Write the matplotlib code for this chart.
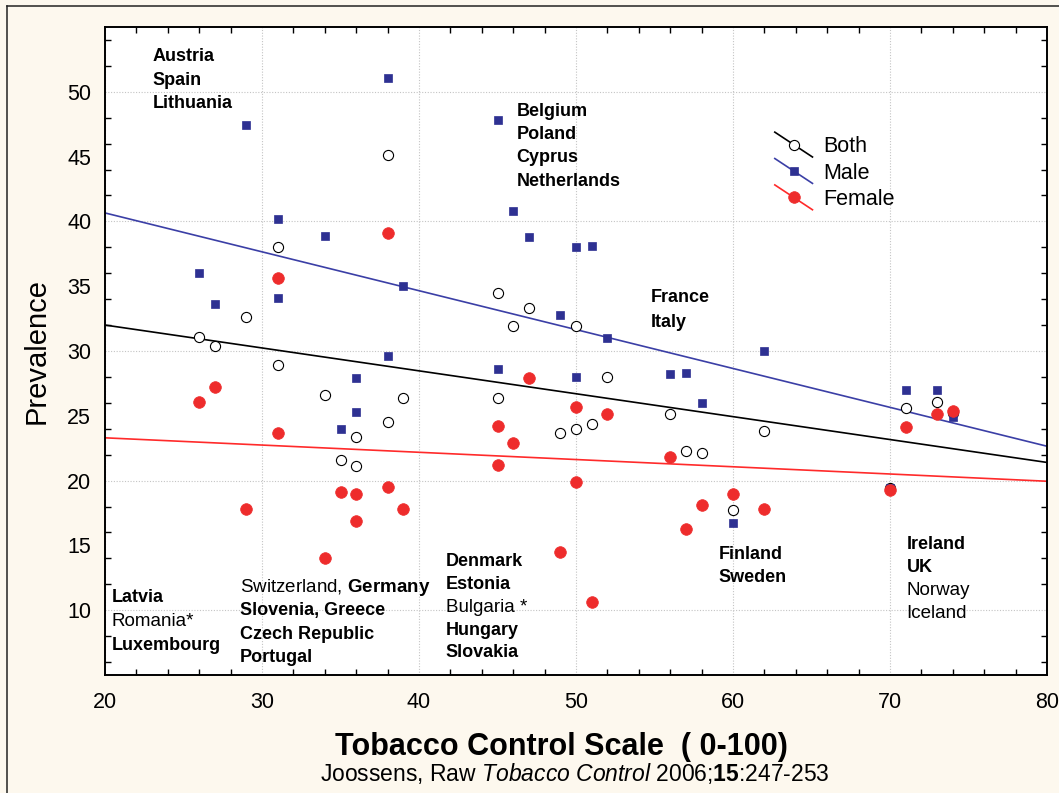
import matplotlib
matplotlib.use("Agg")
import matplotlib.pyplot as plt
from matplotlib.lines import Line2D
from matplotlib.legend_handler import HandlerLine2D

plt.rcParams['font.family'] = ['Liberation Sans', 'DejaVu Sans']
plt.rcParams['mathtext.fontset'] = 'custom'
plt.rcParams['mathtext.rm'] = 'Liberation Sans'
plt.rcParams['mathtext.it'] = 'Liberation Sans:italic'
plt.rcParams['mathtext.bf'] = 'Liberation Sans:bold'

# tobacco control scale score per country
tcs = [26, 27, 29, 31, 31, 34, 35, 36, 36, 38, 38, 39, 45, 45, 46,
       47, 49, 50, 50, 51, 52, 56, 57, 58, 60, 62, 70, 71, 73, 74]

prev_both = [31.1, 30.4, 32.6, 38.0, 28.9, 26.6, 21.6, 23.4, 21.1, 45.1,
             24.5, 26.4, 34.5, 26.4, 31.9, 33.3, 23.7, 31.9, 24.0, 24.4,
             28.0, 25.1, 22.3, 22.1, 17.7, 23.8, 19.4, 25.6, 26.1, 25.2]
prev_male = [36.0, 33.6, 47.4, 40.2, 34.1, 38.9, 24.0, 27.9, 25.3, 51.1,
             29.6, 35.0, 47.8, 28.6, 40.8, 38.8, 32.8, 38.0, 28.0, 38.1,
             31.0, 28.2, 28.3, 26.0, 16.7, 30.0, 19.4, 27.0, 27.0, 24.9]
prev_female = [26.1, 27.2, 17.8, 35.6, 23.7, 14.0, 19.1, 19.0, 16.9, 39.1,
               19.5, 17.8, 24.2, 21.2, 22.9, 27.9, 14.5, 25.7, 19.9, 10.6,
               25.1, 21.8, 16.3, 18.1, 19.0, 17.8, 19.3, 24.1, 25.1, 25.4]

# fitted lines, end values
fit_x = [20, 80]
fit_both = [32.0, 21.4]
fit_male = [40.65, 22.65]
fit_female = [23.3, 19.95]

# country groups written on the chart: (x, y of first line, step, lines)
groups = [
    (23.05, 52.7, 1.8, [("Austria", "bold"), ("Spain", "bold"), ("Lithuania", "bold")]),
    (46.2, 48.5, 1.8, [("Belgium", "bold"), ("Poland", "bold"), ("Cyprus", "bold"),
                       ("Netherlands", "bold")]),
    (54.75, 34.15, 1.93, [("France", "bold"), ("Italy", "bold")]),
    (20.4, 10.95, 1.82, [("Latvia", "bold"), ("Romania*", "normal"), ("Luxembourg", "bold")]),
    (28.6, 11.75, 1.8, [(r"Switzerland, $\mathbf{Germany}$", "normal"),
                        ("Slovenia, Greece", "bold"), ("Czech Republic", "bold"),
                        ("Portugal", "bold")]),
    (41.7, 13.75, 1.76, [("Denmark", "bold"), ("Estonia", "bold"), ("Bulgaria *", "normal"),
                         ("Hungary", "bold"), ("Slovakia", "bold")]),
    (59.1, 14.3, 1.78, [("Finland", "bold"), ("Sweden", "bold")]),
    (71.05, 15.1, 1.78, [("Ireland", "bold"), ("UK", "bold"), ("Norway", "normal"),
                         ("Iceland", "normal")]),
]

blue = '#2E3192'
red = '#EE2C2C'
cream = '#FDF8EE'


class DiagonalHandler(HandlerLine2D):
    # legend sample drawn as a slanted line with the marker in the middle
    def create_artists(self, legend, orig_handle, xdescent, ydescent,
                       width, height, fontsize, trans):
        x0 = -xdescent
        x1 = x0 + width
        y0 = -ydescent + height * 1.35
        y1 = -ydescent - height * 0.3
        ln = Line2D([x0, x1], [y0, y1], color=orig_handle.get_color(),
                    lw=orig_handle.get_linewidth())
        mk = Line2D([(x0 + x1) / 2], [(y0 + y1) / 2], linestyle='none',
                    marker=orig_handle.get_marker(),
                    markersize=orig_handle.get_markersize(),
                    markerfacecolor=orig_handle.get_markerfacecolor(),
                    markeredgecolor=orig_handle.get_markeredgecolor(),
                    markeredgewidth=orig_handle.get_markeredgewidth())
        ln.set_transform(trans)
        mk.set_transform(trans)
        return [ln, mk]


fig = plt.figure(figsize=(10.59, 7.93), dpi=100, facecolor=cream)
ax = fig.add_axes([0.0992, 0.1488, 0.8895, 0.8172])
ax.set_facecolor('white')

# regression lines
ax.plot(fit_x, fit_both, color='black', lw=1.2, zorder=2)
ax.plot(fit_x, fit_male, color='#3B3FA6', lw=1.2, zorder=2)
ax.plot(fit_x, fit_female, color='#FF2A2A', lw=1.2, zorder=2)

# points
ax.plot(tcs, prev_both, linestyle='none', marker='o', markersize=7.3,
        markerfacecolor='white', markeredgecolor='black', markeredgewidth=0.8, zorder=3)
ax.plot(tcs, prev_male, linestyle='none', marker='s', markersize=5.6,
        markerfacecolor=blue, markeredgecolor=blue, markeredgewidth=0.5, zorder=4)
ax.plot(tcs, prev_female, linestyle='none', marker='o', markersize=8.4,
        markerfacecolor=red, markeredgecolor=red, markeredgewidth=0.5, zorder=5)

ax.set_xlim(20, 80)
ax.set_ylim(5, 55)

ax.set_xticks(range(20, 81, 10))
ax.set_xticks(range(20, 81, 2), minor=True)
ax.set_yticks(range(10, 51, 5))
ax.set_yticks(range(6, 55, 2), minor=True)
ax.tick_params(which='major', length=0, labelsize=15.5, pad=12)
ax.tick_params(axis='y', which='major', pad=10)
ax.tick_params(which='minor', direction='in', length=4, width=1,
               top=True, right=True)

ax.grid(True, which='major', color='#C4C4C4', linestyle=(0, (1, 1.5)), lw=0.8)
for tk, val in zip(ax.yaxis.get_major_ticks(), range(10, 51, 5)):
    tk.gridline.set_visible(val % 10 == 0)
ax.set_axisbelow(True)

for sp in ax.spines.values():
    sp.set_linewidth(1.4)

ax.set_ylabel('Prevalence', fontsize=21, labelpad=12)
ax.set_xlabel('Tobacco Control Scale  ( 0-100)', fontsize=22, fontweight='bold',
              labelpad=14, x=0.485)
fig.text(0.543, 0.015, r'Joossens, Raw $\mathit{Tobacco\ Control}$ 2006;$\mathbf{15}$:247-253',
         fontsize=16.5, ha='center', va='baseline')

for gx, gy, step, lines in groups:
    for i, (txt, wt) in enumerate(lines):
        size = 13 if wt == 'bold' else 13.5
        ax.text(gx, gy - i * step, txt, fontsize=size, fontweight=wt,
                ha='left', va='center', zorder=6)

handles = [
    Line2D([], [], color='black', lw=1.2, marker='o', markersize=7.3,
           markerfacecolor='white', markeredgecolor='black', markeredgewidth=0.8),
    Line2D([], [], color='#3B3FA6', lw=1.2, marker='s', markersize=5.6,
           markerfacecolor=blue, markeredgecolor=blue, markeredgewidth=0.5),
    Line2D([], [], color='#FF2A2A', lw=1.2, marker='o', markersize=8.4,
           markerfacecolor=red, markeredgecolor=red, markeredgewidth=0.5),
]
ax.legend(handles, ['Both', 'Male', 'Female'], loc='upper left',
          bbox_to_anchor=(0.711, 0.831), frameon=False, fontsize=15.5,
          handlelength=1.75, handletextpad=0.5, labelspacing=0.25,
          borderpad=0, borderaxespad=0,
          handler_map={Line2D: DiagonalHandler()})

# thin border of the original figure panel
fig.add_artist(Line2D([7 / 1059, 7 / 1059], [0, 1 - 6 / 793], color='#222222',
                      lw=1.1, transform=fig.transFigure))
fig.add_artist(Line2D([7 / 1059, 1], [1 - 6 / 793, 1 - 6 / 793], color='#222222',
                      lw=1.1, transform=fig.transFigure))

fig.savefig('out.png', dpi=100, facecolor=cream)
